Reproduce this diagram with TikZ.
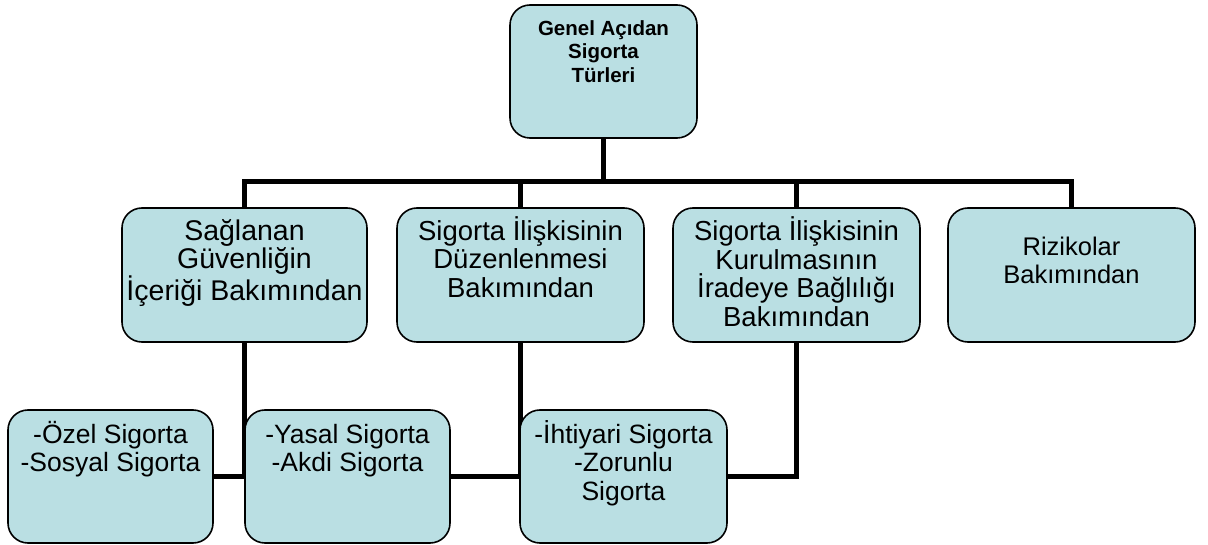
\documentclass[tikz,border=0pt]{standalone}
\usepackage{fontspec}
\setmainfont{Liberation Sans}
\usetikzlibrary{backgrounds}
\definecolor{boxfill}{RGB}{186,223,227}
\newcommand{\mystrut}{\rule{0pt}{1em}}
\begin{document}
\begin{tikzpicture}[x=1pt,y=-1pt,
  box/.style={draw=black, line width=1.6pt, fill=boxfill, rounded corners=20pt, inner sep=0pt},
  conn/.style={line width=5pt, draw=black},
  txt/.style={inner sep=0pt, align=center, anchor=north, font=\fontsize{#1}{28.5}\selectfont},
  txt/.default=26.5,
  toptxt/.style={inner sep=0pt, align=center, anchor=north, font=\fontsize{20.5}{23.5}\selectfont\bfseries}]
\useasboundingbox (0,0) rectangle (1208,545);

% boxes
\node[box, minimum width=187pt, minimum height=133pt] (top) at (603.5,71.5) {};
\node[box, minimum width=245pt, minimum height=134pt] (n1) at (244.5,275) {};
\node[box, minimum width=247pt, minimum height=134pt] (n2) at (520.5,275) {};
\node[box, minimum width=247pt, minimum height=134pt] (n3) at (796.5,275) {};
\node[box, minimum width=247pt, minimum height=134pt] (n4) at (1071.5,275) {};
\node[box, minimum width=205pt, minimum height=133pt] (b1) at (110.5,476.5) {};
\node[box, minimum width=205pt, minimum height=133pt] (b2) at (347.5,476.5) {};
\node[box, minimum width=207pt, minimum height=133pt] (b3) at (623.5,476.5) {};

% texts
\node[toptxt] (topt) at (603.5,14.5) {\mystrut Genel Açıdan\\Sigorta\\Türleri};
\node[txt=28.5] (n1t) at (244.5,211.5) {\mystrut Sağlanan\\Güvenliğin\\İçeriği Bakımından};
\node[txt=27.5] (n2t) at (520.5,212.5) {\mystrut Sigorta İlişkisinin\\Düzenlenmesi\\Bakımından};
\node[txt=27.5] (n3t) at (796.5,213) {\mystrut Sigorta İlişkisinin\\Kurulmasının\\İradeye Bağlılığı\\Bakımından};
\node[txt=25.5] (n4t) at (1071.5,229.5) {\mystrut Rizikolar\\Bakımından};
\node[txt] (b1t) at (110.5,416.5) {\mystrut -Özel Sigorta\\-Sosyal Sigorta};
\node[txt] (b2t) at (347.5,416.5) {\mystrut -Yasal Sigorta\\-Akdi Sigorta};
\node[txt] (b3t) at (623.5,416.5) {\mystrut -İhtiyari Sigorta\\-Zorunlu\\Sigorta};

% connectors
\begin{pgfonlayer}{background}
\coordinate (bar) at (0,181.5);
\draw[conn] (top.south) -- (top.south |- bar);
\draw[conn] (n1.north) -- (n1.north |- bar) -- (n4.north |- bar) -- (n4.north);
\draw[conn] (n2.north) -- (n2.north |- bar);
\draw[conn] (n3.north) -- (n3.north |- bar);
\draw[conn] (n1.south) |- (b1.east);
\draw[conn] (n2.south) |- (b2.east);
\draw[conn] (n3.south) |- (b3.east);
\end{pgfonlayer}
\end{tikzpicture}
\end{document}
